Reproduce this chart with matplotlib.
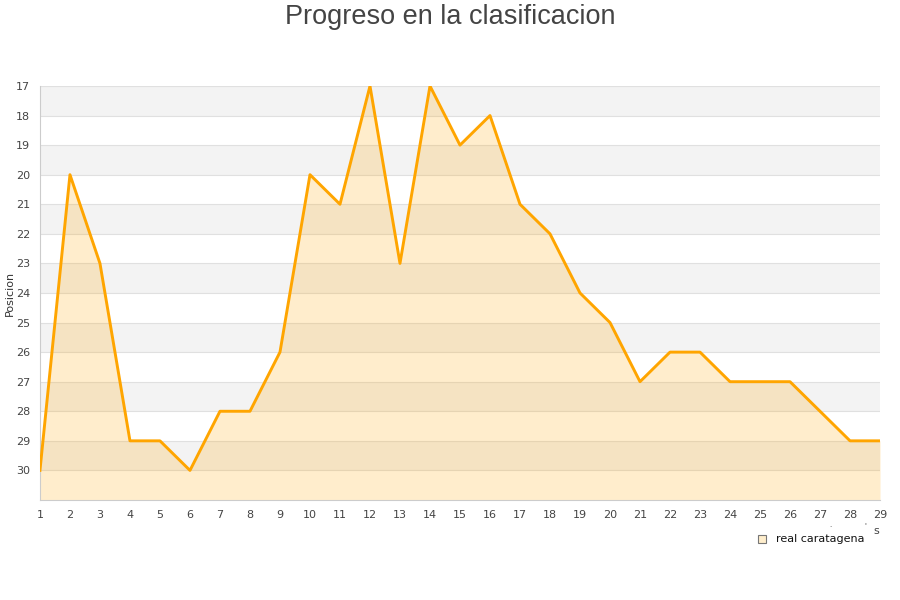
import matplotlib.pyplot as plt
from matplotlib.lines import Line2D

jornadas = list(range(1, 30))
posiciones = [30, 20, 23, 29, 29, 30, 28, 28, 26, 20, 21, 17, 23, 17, 19, 18, 21, 22,
              24, 25, 27, 26, 26, 27, 27, 27, 28, 29, 29]
equipo = "real caratagena"

fig = plt.figure(figsize=(9, 6), dpi=100)
ax = fig.add_axes([0.0444, 0.1667, 0.9334, 0.69])

# franjas alternas
for y in range(17, 31, 2):
    ax.axhspan(y, y + 1, color="#f3f3f3", zorder=0, lw=0)
for y in range(17, 31):
    ax.axhline(y, color="#e0e0e0", lw=0.8, zorder=1)

ax.fill_between(jornadas, posiciones, 31, color="#ffa500", alpha=0.2, lw=0, zorder=2)
ax.plot(jornadas, posiciones, color="#ffa500", lw=2.1, zorder=3)

ax.set_xlim(1, 29)
ax.set_ylim(31, 17)
ax.set_xticks(jornadas)
ax.set_yticks(range(17, 31))
ax.tick_params(length=0, labelsize=8, colors="#444444", pad=7)
for s in ["top", "right"]:
    ax.spines[s].set_visible(False)
for s in ["left", "bottom"]:
    ax.spines[s].set_color("#cccccc")

ax.set_ylabel("Posicion", fontsize=8, color="#333333", labelpad=1)

fig.text(0.5, 0.993, "Progreso en la clasificacion", ha="center", va="top",
         fontsize=19.5, color="#444444", family="Liberation Sans")

# leyenda
fig.add_artist(Line2D([0.8467], [0.1017], marker="s", markersize=6,
                      markerfacecolor="#ffeecc", markeredgecolor="#777777",
                      markeredgewidth=0.8, transform=fig.transFigure))
fig.text(0.8622, 0.1017, equipo, ha="left", va="center", fontsize=8, color="#111111")
fig.text(0.9733, 0.115, "s", ha="center", va="center", fontsize=8, color="#444444")
fig.text(0.923, 0.125, ".", ha="center", va="center", fontsize=5, color="#444444")
fig.text(0.961, 0.125, "'", ha="center", va="center", fontsize=5, color="#444444")

plt.savefig("out.png")
